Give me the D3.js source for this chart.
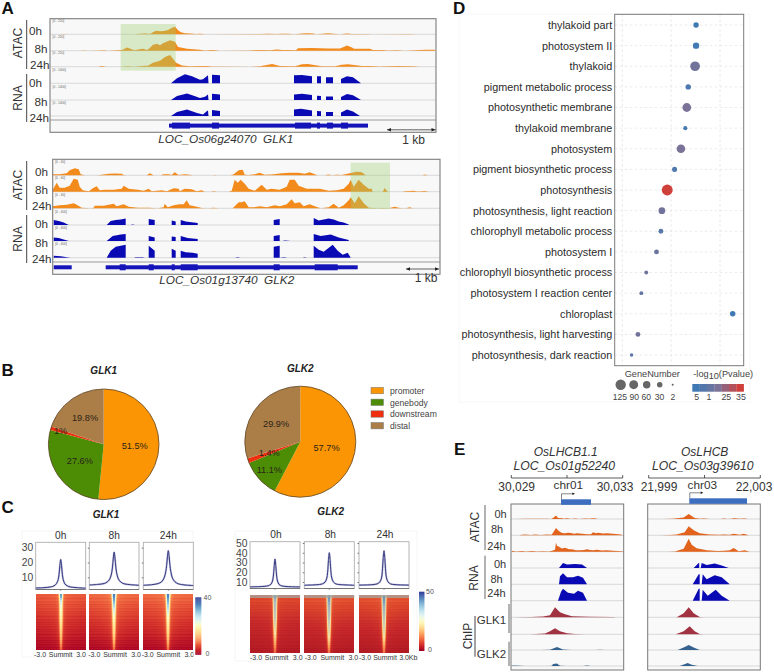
<!DOCTYPE html>
<html>
<head>
<meta charset="utf-8">
<title>GLK chromatin accessibility and binding</title>
<script src="https://cdn.jsdelivr.net/npm/d3@7/dist/d3.min.js"></script>
<style>
  html, body { margin: 0; background: #fff; }
  svg { display: block; }
  text { font-family: "Liberation Sans", Arial, sans-serif; fill: #222; white-space: pre; }
</style>
</head>
<body>
<svg id="fig" width="774" height="672" viewBox="0 0 774 672"></svg>
<script>
// ---------- Browser tracks: [genome bin, signal] pairs, one list per track ----------
const glk1Atac0h = [[10,0],[13,.4],[18,0],[85,0],[90,.6],[96,.7],[100,.2],[103,2],[106,3.6],[110,3],[114,3.4],[118,4.2],[122,6.5],[125,7.6],[126,6.5],[128,4],[131,2],[135,1],[140,.7],[146,.3],[150,.5],[156,0],[210,.2],[218,.5],[227,.2],[232,.5],[238,.6],[244,0],[250,.6],[256,1],[263,.7],[266,0],[273,.6],[278,1],[283,.5],[290,0],[297,.9],[302,.3],[317,.4],[322,0],[360,.2],[366,0]];
const glk1Atac8h = [[30,0],[34,.3],[38,0],[50,.3],[54,.4],[58,0],[72,.6],[77,3.2],[83,1],[85,.4],[88,1.2],[93,2],[97,.8],[99,2],[103,6],[107,7],[110,5.5],[113,7.5],[120,10.5],[125,9],[128,3.6],[137,2],[150,1],[155,.3],[163,.6],[170,0],[200,.3],[208,.7],[213,.8],[220,.5],[227,1.2],[232,.6],[240,.8],[246,.4],[248,2.4],[262,2.8],[278,2.3],[290,2.2],[293,3.5],[297,5.2],[302,3.2],[304,2],[320,1.9],[323,.6],[332,.7],[338,.2],[347,.5],[355,0],[375,.9],[385,1]];
const glk1Atac24h = [[48,0],[52,.6],[56,0],[72,0],[78,.5],[84,0],[90,.5],[95,.9],[98,1],[103,4],[110,6],[115,9.8],[120,11.6],[123,8],[126,4],[132,1.2],[140,.5],[150,.8],[157,.8],[162,.2],[170,.3],[200,0],[210,.5],[222,2.7],[230,.6],[245,.4],[252,2.4],[258,2.8],[264,1.6],[272,.5],[285,.4],[292,2],[298,2.4],[304,1.7],[312,.7],[320,.6],[330,.2],[347,.6],[363,.5],[370,0]];
const glk1Rna0h = [[121,0],[127,5],[135,9],[142,7],[150,3.6],[153,4],[158,8],[158.5,0],[162,0],[162,8.5],[170,8],[170,0],[244,0],[244,8],[252,8.4],[262,7],[262,0],[267,0],[267,7],[271,7],[271,0],[276,0],[276,6],[283,6],[283,0],[291,0],[291,4.4],[297,7],[303,6],[311,0]];
const glk1Rna8h = [[121,0],[127,4],[137,6.5],[143,4.5],[150,2],[155,3.2],[158,5.5],[158.5,0],[162,0],[162,6.2],[170,5.6],[170,0],[244,0],[244,5.6],[252,6.2],[262,5],[262,0],[267,0],[267,4.2],[271,4],[271,0],[276,0],[276,3.5],[283,3.6],[283,0],[291,0],[291,3],[297,6],[303,4.8],[311,0]];
const glk1Rna24h = [[121,0],[127,4],[137,6.5],[147,3],[153,1.5],[157,5],[158,5.6],[158.5,0],[162,0],[162,6],[170,5],[170,0],[244,0],[244,6.4],[251,7.2],[262,5.5],[262,0],[267,0],[267,5],[271,4.8],[271,0],[276,0],[276,4],[283,4],[283,0],[291,0],[291,3.4],[297,6.5],[303,4.6],[310,0]];

const glk2Atac0h = [[0,1],[7,1],[14,2],[17,5],[22,7],[26,6],[28,1],[32,0],[44,0],[47,.4],[56,1.5],[62,1.8],[69,1.5],[71,.3],[74,0],[94,0],[97,2],[101,0],[108,0],[111,1],[116,1],[119,.3],[122,3],[126,.3],[132,1],[137,.6],[140,0],[160,0],[162,.4],[165,0],[178,0],[181,1],[186,5],[190,5.5],[192,.5],[196,.3],[202,1],[207,2.5],[212,.5],[219,.7],[229,2],[237,2.5],[246,2.5],[252,1.5],[257,3],[262,1],[265,0],[272,0],[276,.7],[279,0],[284,.6],[289,.4],[297,2],[304,3.5],[309,3],[313,0],[370,0],[372,.7],[375,0]];
const glk2Atac8h = [[0,2],[4,9],[7,4],[12,4],[17,6],[21,13],[25,12],[27,5],[30,1.5],[36,.5],[41,4],[44,5.5],[47,1.5],[52,2],[61,2],[69,3],[71,6],[76,3],[85,2],[91,1],[96,3],[99,.5],[109,1.5],[114,.5],[121,3.5],[126,3],[127,.5],[132,3],[139,2.5],[144,.4],[149,1.5],[152,0],[158,0],[161,.5],[165,0],[176,0],[179,1],[182,12],[185,9],[188,12],[192,8],[196,3],[202,1],[209,7],[214,2],[219,3],[227,2],[234,5],[237,12],[242,12],[246,6],[254,3],[267,3],[276,1],[284,1.5],[291,3],[296,8],[298,12],[301,5],[306,12],[311,7],[316,3],[319,3],[320,0],[330,0],[332,3.6],[335,0],[350,0],[352,.5],[361,1],[365,.2],[372,.7],[376,0]];
const glk2Atac24h = [[0,2],[7,3],[14,3.6],[21,5],[24,3.5],[29,.5],[38,0],[41,.5],[42,2.5],[51,2.5],[56,3.6],[61,4.5],[64,2],[71,4],[76,1.5],[85,.5],[91,.5],[96,.5],[105,0],[111,1],[112,4.5],[115,1],[121,3],[127,4],[131,4],[134,8],[137,3],[142,2],[149,.3],[155,0],[161,.5],[166,0],[180,0],[182,2],[186,6],[189,6],[192,7],[196,1],[201,1],[207,2],[214,1],[222,3],[227,2],[234,4],[239,9],[242,5],[247,6],[251,2],[257,4],[262,2],[268,0],[276,1],[281,4.5],[286,.5],[291,3],[296,8],[298,11],[302,5],[306,12],[311,5],[316,.5],[325,0],[331,.4],[336,0],[342,1.5],[347,.2],[353,0],[357,1],[360,0]];
const glk2Rna0h = [[1,0],[1,5],[6,4],[11,2.5],[16,0],[54,0],[58,4],[63,5],[68,5.5],[73,6.5],[73,0],[78,0],[80,.4],[82,0],[96,0],[96,6],[102,5],[102,0],[119,0],[119,4.5],[123,3.5],[123,0],[128,0],[128,5],[133,3.6],[145,2],[145,0],[221,0],[221,5],[227,6],[227,0],[261,0],[261,7],[266,4.6],[276,6.5],[281,5.5],[286,3.5],[291,2.5],[296,.5],[296,0]];
const glk2Rna8h = [[1,0],[1,3.6],[6,3],[11,1.5],[16,0],[54,0],[60,5],[68,6.5],[73,7],[73,0],[96,0],[96,5],[102,3.6],[102,0],[119,0],[119,4.5],[123,4],[123,0],[128,0],[128,5],[135,3],[145,2],[145,0],[221,0],[221,5],[227,6],[227,0],[230,0],[232,.4],[238,0],[261,0],[261,7],[268,5],[278,6.5],[286,3.5],[296,1],[296,0]];
const glk2Rna24h = [[1,0],[1,2],[8,1.5],[16,.3],[18,0],[54,0],[58,7],[63,11],[68,12],[73,13],[73,0],[81,0],[83,.4],[90,.4],[92,0],[96,0],[96,12],[102,7],[102,0],[119,0],[119,9],[123,7],[123,0],[128,0],[128,7],[133,5.5],[140,5],[145,4],[145,0],[182,0],[185,.4],[188,0],[221,0],[221,11],[227,12],[227,0],[231,.5],[235,0],[250,0],[252,.5],[254,0],[261,0],[261,12],[266,8],[271,6],[280,13],[285,7],[290,3],[295,5],[298,0]];

const lhcb1Atac0h = [[5,0],[15,.2],[36,.2],[40,0],[42,1],[45,3.6],[47,1],[51,.7],[53,.2],[56,.7],[60,.1],[64,.5],[68,.1],[74,.5],[78,.2],[83,.8],[87,0]];
const lhcb1Atac8h = [[9,.2],[14,.8],[20,.4],[24,.8],[30,.4],[36,.8],[40,.6],[41,1],[45,7.4],[47,5],[49,3.6],[51,2.4],[54,2],[57,2.6],[60,2.2],[63,1.6],[66,2],[71,1.6],[76,1],[80,1],[82,3],[85,2],[87,2.5],[92,1.7],[96,2],[102,1.5],[110,.7],[112,0]];
const lhcb1Atac24h = [[1,1],[5,.3],[11,.7],[15,.2],[21,.7],[26,.3],[31,.5],[38,.3],[41,1],[44,2],[45,9],[46,6],[48,5],[51,3.2],[54,4],[58,2.4],[61,2.5],[65,1.4],[69,1.5],[73,1.6],[76,2.5],[79,1.6],[82,1.4],[86,2],[91,1.2],[96,1.5],[102,1],[111,.5],[113,0]];
const lhcb1Rna0h = [[48,0],[52,5],[56,3.6],[64,4],[71,3.5],[76,0]];
const lhcb1Rna8h = [[48,0],[49,8],[52,11],[56,7],[62,7],[67,8.6],[72,6.5],[76,0]];
const lhcb1Rna24h = [[47,0],[50,9],[52,12],[57,8],[63,7],[67,10],[72,8],[76,0]];
const lhcb1ChipGlk1a = [[2,0],[20,.3],[32,.7],[39,2],[44,10],[49,5],[54,3],[61,1],[79,.5],[102,.3],[105,0]];
const lhcb1ChipGlk1b = [[19,0],[25,.3],[34,.7],[39,3],[44,6],[49,3],[56,1],[64,.3],[75,0]];
const lhcb1ChipGlk2a = [[30,0],[39,.3],[46,3],[52,.5],[60,0],[85,0],[89,.3],[93,0]];
const lhcb1ChipGlk2b = [[0,0],[2,.5],[9,.2],[14,0],[38,0],[41,.3],[42,2],[46,2.5],[49,.3],[55,0],[72,0],[76,.6],[80,0]];

const lhcbAtac0h = [[15,0],[25,.2],[36,1.5],[41,5],[47,1],[52,.3],[56,.5],[62,0],[73,0],[76,.5],[80,0],[84,.2],[86,.8],[92,.2],[97,.5],[100,0]];
const lhcbAtac8h = [[12,0],[22,.2],[29,.7],[37,3],[41,9],[46,5],[52,2],[62,.7],[72,.5],[76,.7],[82,.6],[86,1.5],[92,.5],[96,1.5],[101,0]];
const lhcbAtac24h = [[20,0],[27,.3],[36,3],[41,13],[44,7],[49,3.5],[59,1.5],[70,.8],[76,1],[82,1.4],[86,3.6],[91,.5],[97,1.5],[102,0]];
const lhcbRna0h = [[46,0],[51,5],[51.5,5],[51.5,0],[53,0],[54,5],[59,3],[67,4.6],[74,2.5],[81,0]];
const lhcbRna8h = [[45,0],[51,10],[52,10],[52,0],[54,0],[55,10],[59,5],[67,9],[74,7],[82,0]];
const lhcbRna24h = [[45,0],[51,12],[52,12],[52,0],[54,0],[55,11],[60,5],[68,11],[74,5],[82,0]];
const lhcbChipGlk1a = [[29,0],[36,4],[41,10],[46,4],[52,.3],[56,0]];
const lhcbChipGlk1b = [[28,0],[36,3],[42,8],[47,3],[52,.3],[56,0]];
const lhcbChipGlk2a = [[30,0],[37,3],[41,5],[46,2.5],[52,0]];
const lhcbChipGlk2b = [[32,0],[40,3],[44,1.2],[50,0]];

// Gene models as [start bin, end bin]
const glk1GeneBody = [[119,318]];
const glk1Exons = [[122,140],[162,169],[245,261],[267,270],[277,283],[291,298]];
const glk2GeneBody = [[1,19],[53,305]];
const glk2Exons = [[67,73],[96,101],[119,122],[128,145],[221,227],[262,285]];

// ---------- Peak calls per genomic feature ----------
const pieCategories = ["promoter", "genebody", "downstream", "distal"];
const pieGlk1 = [51.5, 27.6, 1, 19.8];
const pieGlk2 = [57.7, 11.1, 1.4, 29.9];

// ---------- Summit profiles: [kb from summit, signal] ----------
const profGlk1_0h = [[-3,2.8],[-2,3],[-1.2,3.5],[-.8,4.2],[-.5,5.8],[-.3,8.5],[-.2,12],[-.1,18],[0,22],[.1,18],[.2,12],[.3,8.5],[.5,5.6],[.8,4.2],[1.2,3.4],[2,3],[3,2.6]];
const profGlk1_8h = [[-3,4.8],[-2,5.2],[-1.2,5.8],[-.8,7],[-.5,9.2],[-.3,13],[-.2,17],[-.1,23],[0,27],[.1,23],[.2,17],[.3,13],[.5,9],[.8,6.8],[1.2,5.6],[2,5],[3,4.6]];
const profGlk1_24h = [[-3,4.6],[-2,5],[-1.2,5.8],[-.8,7],[-.5,9.6],[-.3,14],[-.2,18],[-.1,24],[0,28],[.1,24],[.2,18],[.3,14],[.5,9.4],[.8,7],[1.2,5.6],[2,4.8],[3,4.4]];
const profGlk2_0h = [[-3,5],[-2,5.2],[-1.2,5.6],[-.8,6.2],[-.5,7.6],[-.3,11],[-.2,16],[-.1,26],[0,33.5],[.1,26],[.2,16],[.3,11],[.5,7.4],[.8,6],[1.2,5.5],[2,5.1],[3,5]];
const profGlk2_8h = [[-3,6.6],[-2,7],[-1.2,7.4],[-.8,8.2],[-.5,10],[-.3,14],[-.2,20],[-.1,32],[0,40],[.1,32],[.2,20],[.3,14],[.5,10],[.8,8],[1.2,7.4],[2,7],[3,6.6]];
const profGlk2_24h = [[-3,6.8],[-2,7],[-1.2,7.4],[-.8,8.2],[-.5,10],[-.3,14],[-.2,21],[-.1,34],[0,42],[.1,34],[.2,21],[.3,14],[.5,10],[.8,8],[1.2,7.4],[2,7],[3,6.8]];

// ---------- Heatmaps: rows top to bottom, columns by distance from summit ----------
const heatOffsets = [3, 1.5, .7, .4, .25, .15, .07, 0];
const heatRows = [0, .05, .12, .25, .4, .55, .7, .85, 1];
const heatGlk1_0h = [
  [6.5,6.8,7.2,8,13,24,33,35],
  [6.2,6.5,7,8,12,22,31,33],
  [5.8,6.2,6.6,7.5,10,19,24,26],
  [5,5.4,5.8,6.5,9,17,21,22],
  [3.8,4.2,4.6,5.5,8,15,18,19],
  [3,3.4,3.8,4.5,6.5,13,16,17],
  [2.2,2.5,3,3.8,5,10,14,15],
  [1.4,1.6,2,2.6,3.5,7,11.5,12.5],
  [.6,.7,1,1.4,2,3.5,7,8]];
const heatGlk1_8h = [
  [7.5,7.8,8.2,10,18,28,35,37],
  [7.2,7.5,8,9.5,16,27,34,36],
  [6.6,7,7.5,8.5,13,24,31,33],
  [5.6,6,6.5,7.5,11,20,25,27],
  [4.5,5,5.5,6.5,9,17,20,21],
  [3.5,3.9,4.5,5.5,7.5,14,17,18],
  [2.6,3,3.5,4.4,6,12,15,16],
  [1.6,1.9,2.4,3,4,8,12.5,13.5],
  [.7,.8,1.1,1.6,2.4,4,8,9]];
const heatGlk1_24h = [
  [7.6,7.8,8.2,10,18,27,35,37],
  [7.3,7.5,8,9.5,16,27,34,36],
  [6.7,7,7.5,8.5,13,24,31,33],
  [5.6,6,6.5,7.5,11,20,26,28],
  [4.6,5,5.5,6.5,9,17,20,21],
  [3.5,3.9,4.5,5.5,7.5,14,17,18],
  [2.6,3,3.5,4.4,6,12,15,16],
  [1.6,1.9,2.4,3,4,8,12.5,13.5],
  [.7,.8,1.1,1.6,2.4,4,8,9]];
const heatGlk2_0h = [
  [8,8.2,8.5,10,22,30,36,38],
  [7.5,7.8,8,9,18,28,34,36],
  [7,7.2,7.5,8.5,15,26,30,32],
  [6,6.2,6.5,7.5,13,25,28,30],
  [4.5,4.8,5.2,6.5,11,23,26,27],
  [3.5,3.8,4.2,5.5,9,20,22,23],
  [2.8,3,3.4,4.5,7,16,19,20],
  [2,2.2,2.5,3.2,4.5,11,15,16],
  [1,1.1,1.4,1.8,2.5,5,10,11]];
const heatGlk2_8h = [
  [9,9.2,9.5,11,24,32,40,42],
  [8.5,8.8,9,10,20,30,38,41],
  [8,8.2,8.5,9.5,17,29,34,37],
  [6.8,7,7.5,8.5,15,27,31,33],
  [5.2,5.6,6,7.2,12,25,28,30],
  [4,4.2,4.8,6,10,22,24,25],
  [3,3.3,3.8,5,8,18,21,22],
  [2.2,2.4,2.8,3.5,5,12,16,17],
  [1,1.2,1.5,2,2.8,5.5,11,12]];
const heatGlk2_24h = [
  [9,9.2,9.5,11,24,32,40,42],
  [8.5,8.8,9,10,20,30,38,42],
  [8,8.2,8.5,9.5,17,29,35,38],
  [6.8,7,7.5,8.5,15,27,31,33],
  [5.2,5.6,6,7.2,12,25,28,30],
  [4,4.2,4.8,6,10,22,24,25],
  [3,3.3,3.8,5,8,18,21,22],
  [2.2,2.4,2.8,3.5,5,12,16,17],
  [1,1.2,1.5,2,2.8,5.5,11,12]];
// Row-to-row unevenness of the sorted peak signal
const heatRowSpread = [.3,-.2,.5,.1,-.4,.2,.6,-.3,0,.4,-.5,.2,-.1,.5,-.3,.1,.4,-.4];

// ---------- GO enrichment ----------
const goTerms = ["thylakoid part","photosystem II","thylakoid","pigment metabolic process","photosynthetic membrane","thylakoid membrane","photosystem","pigment biosynthetic process","photosynthesis","photosynthesis, light reaction","chlorophyll metabolic process","photosystem I","chlorophyll biosynthetic process","photosystem I reaction center","chloroplast","photosynthesis, light harvesting","photosynthesis, dark reaction"];
const goEnrichment = [2.51,2.51,2.49,2.35,2.32,2.29,2.2,2.07,1.92,1.81,1.79,1.7,1.49,1.39,3.26,1.32,1.19];
const goGeneNumber = [29,42,107,29,86,15,82,24,140,47,22,22,13,13,29,22,10];
const goLogP = [5,5.5,18,8,20,7,20,9,35,18,11,16,17,14,5,18,12];
const sizeLegend = [125,90,60,30,2];
const colorLegendSteps = [5,10,15,20,25,30,35];
const colorLegendLabels = ["5","1","25","35"];

// ---------- Shared drawing helpers ----------
const svg = d3.select("#fig");
const FONT = "Liberation Sans";

function label(parent, txt, x, y, opts = {}) {
  const t = parent.append("text").attr("x", x).attr("y", y)
    .attr("text-anchor", opts.anchor || "middle")
    .attr("dominant-baseline", "central")
    .style("font-size", (opts.size || 11) + "px")
    .style("font-style", opts.italic ? "italic" : null)
    .style("font-weight", opts.bold ? "bold" : null)
    .style("fill", opts.fill || null)
    .text(txt);
  if (opts.rotate) t.attr("transform", `rotate(${opts.rotate} ${x} ${y})`);
  return t;
}

function panelLetter(txt, x, y) {
  svg.append("text").attr("x", x).attr("y", y)
    .style("font-size", "17px").style("font-weight", "bold").style("fill", "#111").text(txt);
}

// Draws one coverage track with its baseline; signal runs 0-16 above the baseline.
function track(g, series, x0, w, baseline, color, rangeText) {
  const x = d3.scaleLinear().domain([0, w]).range([x0, x0 + w]);
  const y = d3.scaleLinear().domain([0, 16]).range([baseline, baseline - 16]);
  g.append("line").attr("x1", x0).attr("x2", x0 + w).attr("y1", baseline).attr("y2", baseline)
    .attr("stroke", "#cfcfcf").attr("stroke-width", 0.8);
  g.append("path").datum(series)
    .attr("d", d3.area().x(d => x(d[0])).y0(y(0)).y1(d => y(d[1])).curve(d3.curveLinear))
    .attr("fill", color);
  if (rangeText) {
    g.append("text").attr("x", x0 + 2.5).attr("y", baseline - 12.5)
      .style("font-size", "3.2px").style("fill", "#666").text(rangeText);
  }
}

function rowLabels(g, items) {
  items.forEach(d => label(g, d[0], d[1], d[2], { anchor: "start", size: 11.7, fill: "#333" }));
}

function bar(g, x, y1, y2, color = "#444", w = 1) {
  g.append("line").attr("x1", x).attr("x2", x).attr("y1", y1).attr("y2", y2)
    .attr("stroke", color).attr("stroke-width", w);
}

function scaleArrow(g, x1, x2, y) {
  const col = "#222";
  g.append("line").attr("x1", x1).attr("x2", x2).attr("y1", y).attr("y2", y).attr("stroke", col).attr("stroke-width", .7);
  g.append("path").attr("d", `M${x1},${y}l4,-1.8v3.6z M${x2},${y}l-4,-1.8v3.6z`).attr("fill", col);
}

// ---------- Panel A ----------
const orange = "#f28a1c", rnaBlue = "#0a0ab4", geneBlue = "#1414b8";

function browserPanel(cfg) {
  const g = svg.append("g");
  const w = cfg.x1 - cfg.x0;
  g.append("rect").attr("x", cfg.x0).attr("y", cfg.y0).attr("width", w).attr("height", cfg.y1 - cfg.y0)
    .attr("fill", "#f8f8f8");
  cfg.atac.forEach((s, i) => track(g, s, cfg.x0, w, cfg.atacBase[i], orange, cfg.atacRange));
  cfg.rna.forEach((s, i) => track(g, s, cfg.x0, w, cfg.rnaBase[i], rnaBlue, cfg.rnaRange));

  // gene model strip
  g.append("line").attr("x1", cfg.x0).attr("x2", cfg.x1).attr("y1", cfg.sep).attr("y2", cfg.sep)
    .attr("stroke", "#9a9a9a").attr("stroke-width", 1.2);
  const gx = d3.scaleLinear().domain([0, w]).range([cfg.x0, cfg.x1]);
  g.selectAll(null).data(cfg.body).join("rect")
    .attr("x", d => gx(d[0])).attr("width", d => gx(d[1]) - gx(d[0]))
    .attr("y", cfg.geneY - 2).attr("height", 4).attr("fill", geneBlue);
  g.selectAll(null).data(cfg.exons).join("rect")
    .attr("x", d => gx(d[0])).attr("width", d => gx(d[1]) - gx(d[0]))
    .attr("y", cfg.geneY - 3).attr("height", 6).attr("fill", geneBlue);

  // accessible region highlighted over the tracks
  g.append("rect").attr("x", cfg.hl[0]).attr("y", cfg.hl[1]).attr("width", cfg.hl[2]).attr("height", cfg.hl[3])
    .attr("fill", "#9fd070").attr("opacity", .36);
  g.append("rect").attr("x", cfg.x0).attr("y", cfg.y0).attr("width", w).attr("height", cfg.y1 - cfg.y0)
    .attr("fill", "none").attr("stroke", "#7d7d7d").attr("stroke-width", 1.1);

  label(g, "ATAC", 18, cfg.atacMid, { rotate: -90, size: 12, fill: "#333" });
  label(g, "RNA", 18, cfg.rnaMid, { rotate: -90, size: 12, fill: "#333" });
  bar(g, 26.7, cfg.atacLine[0], cfg.atacLine[1]);
  bar(g, 26.7, cfg.rnaLine[0], cfg.rnaLine[1]);
  rowLabels(g, cfg.rows);
  label(g, cfg.title, cfg.titleX, cfg.titleY, { italic: true, size: 11.8, fill: "#333" });
  label(g, "1 kb", cfg.kbX, cfg.kbY, { size: 12, fill: "#333" });
  scaleArrow(g, cfg.arrow[0], cfg.arrow[1], cfg.arrow[2]);
}

browserPanel({
  x0: 50, x1: 436, y0: 18.7, y1: 132.3,
  atac: [glk1Atac0h, glk1Atac8h, glk1Atac24h], atacBase: [34.3, 50.7, 66.7], atacRange: "[0 - 250]",
  rna: [glk1Rna0h, glk1Rna8h, glk1Rna24h], rnaBase: [83.3, 100, 116], rnaRange: "[0 - 1400]",
  sep: 120, geneY: 125.6, body: glk1GeneBody, exons: glk1Exons,
  hl: [120.7, 24, 55, 46.7],
  atacMid: 43, rnaMid: 98, atacLine: [20, 69], rnaLine: [74, 122],
  rows: [["0h", 29, 30], ["8h", 34.5, 48], ["24h", 30, 64], ["0h", 29, 82], ["8h", 34.5, 101], ["24h", 29.5, 117]],
  title: "LOC_Os06g24070  GLK1", titleX: 225.7, titleY: 138.5,
  kbX: 413.5, kbY: 140, arrow: [387, 435.5, 129.8]
});

browserPanel({
  x0: 52.7, x1: 440, y0: 159.3, y1: 274.3,
  atac: [glk2Atac0h, glk2Atac8h, glk2Atac24h], atacBase: [175.3, 191.7, 208.3], atacRange: "[0 - 60]",
  rna: [glk2Rna0h, glk2Rna8h, glk2Rna24h], rnaBase: [225, 241, 257.7], rnaRange: "[0 - 600]",
  sep: 262, geneY: 267.3, body: glk2GeneBody, exons: glk2Exons,
  hl: [350.7, 162.7, 39.3, 46.3],
  atacMid: 185, rnaMid: 239, atacLine: [161, 210], rnaLine: [215, 263],
  rows: [["0h", 35, 171], ["8h", 35, 189], ["24h", 32, 205], ["0h", 35, 223], ["8h", 35, 242], ["24h", 32, 258]],
  title: "LOC_Os01g13740  GLK2", titleX: 226.7, titleY: 280,
  kbX: 426, kbY: 278, arrow: [406, 439, 269]
});

// ---------- Panel B ----------
const pieColor = d3.scaleOrdinal().domain(pieCategories).range(["#fb9503", "#4d8d06", "#ef2f0f", "#ab7d47"]);
const pieGen = d3.pie().sort(null);

function pieChart(values, cx, cy, r, labelRadii, title, titleY) {
  const g = svg.append("g").attr("transform", `translate(${cx},${cy})`);
  const arcs = pieGen(values);
  const arc = d3.arc().innerRadius(0).outerRadius(r);
  g.selectAll("path").data(arcs).join("path").attr("d", arc)
    .attr("fill", (d, i) => pieColor(pieCategories[i]));
  g.append("circle").attr("r", r).attr("fill", "none").attr("stroke", "#5f4526").attr("stroke-width", .8);
  g.selectAll("text").data(arcs).join("text")
    .attr("transform", (d, i) => {
      const c = d3.arc().innerRadius(labelRadii[i]).outerRadius(labelRadii[i]).centroid(d);
      return `translate(${c})`;
    })
    .attr("text-anchor", "middle").attr("dominant-baseline", "central")
    .style("font-size", "9.2px").style("fill", "#2a2418")
    .text(d => d.data + "%");
  label(svg, title, cx, titleY, { bold: true, italic: true, size: 10 });
}

pieChart(pieGlk1, 103.7, 444.3, 55.3, [31, 29, 45, 32], "GLK1", 370.5);
pieChart(pieGlk2, 300.3, 441.7, 55.5, [27, 42, 33, 30], "GLK2", 368);

const pieLegend = svg.append("g").selectAll("g").data(pieCategories).join("g")
  .attr("transform", (d, i) => `translate(371,${387.4 + i * 11.7})`);
pieLegend.append("rect").attr("width", 12.5).attr("height", 6.4)
  .attr("fill", d => pieColor(d)).attr("stroke", "#777").attr("stroke-width", .5);
pieLegend.append("text").attr("x", 19).attr("y", 3.4).attr("dominant-baseline", "central")
  .style("font-size", "8.6px").style("fill", "#444").text(d => d);

// ---------- Panel C ----------
function profileBox(series, cfg, y, showLabels) {
  const g = svg.append("g");
  const x = d3.scaleLinear().domain([-3, 3]).range([cfg.x, cfg.x + cfg.w]);
  g.append("rect").attr("x", cfg.x).attr("y", cfg.top).attr("width", cfg.w).attr("height", cfg.bottom - cfg.top)
    .attr("fill", "#fff").attr("stroke", "#aeaeae").attr("stroke-width", .9);
  g.append("line").attr("x1", cfg.x).attr("x2", cfg.x + cfg.w).attr("y1", cfg.bottom).attr("y2", cfg.bottom)
    .attr("stroke", "#666").attr("stroke-width", .8);
  g.append("line").attr("x1", x(0)).attr("x2", x(0)).attr("y1", cfg.bottom).attr("y2", cfg.bottom + 1.5)
    .attr("stroke", "#666").attr("stroke-width", .6);
  const axis = d3.axisLeft(y).tickValues(cfg.ticks).tickSize(showLabels ? 0 : 1.5).tickPadding(2.5);
  if (!showLabels) axis.tickFormat("");
  const ax = g.append("g").attr("transform", `translate(${cfg.x},0)`).call(axis);
  ax.select(".domain").remove();
  ax.selectAll("line").attr("stroke", "#777");
  ax.selectAll("text").style("font-size", "10.3px").style("fill", "#444").style("font-family", FONT);
  const line = d3.line().x(d => x(d[0])).y(d => y(d[1])).curve(d3.curveCatmullRom);
  g.append("path").datum(series).attr("d", line).attr("fill", "none").attr("stroke", "#c3c5de").attr("stroke-width", 2);
  g.append("path").datum(series).attr("d", line).attr("fill", "none").attr("stroke", "#34367f").attr("stroke-width", 1);
}

function heatmap(matrix, cfg, colorOf) {
  const g = svg.append("g").attr("shape-rendering", "crispEdges");
  const rowFns = matrix.map(r => d3.scaleLinear().domain(heatOffsets).range(r));
  const nRows = Math.round(cfg.bottom - cfg.top), nCols = Math.round(cfg.w);
  const top = Math.round(cfg.top), left = Math.round(cfg.x);
  const cells = [];
  for (let row = 0; row < nRows; row++) {
    const frac = row / (nRows - 1);
    const spread = heatRowSpread[row % heatRowSpread.length];
    const across = d3.scaleLinear().domain(heatRows);
    for (let col = 0; col < nCols; col++) {
      const kb = Math.abs((col + .5) / nCols * 6 - 3);
      const v = across.range(rowFns.map(f => f(kb)))(frac) + spread;
      cells.push({ col, row, v: Math.max(0, v) });
    }
  }
  g.selectAll("rect").data(cells).join("rect")
    .attr("x", d => left + d.col).attr("y", d => top + d.row)
    .attr("width", 1).attr("height", 1)
    .attr("fill", d => colorOf(d.v));
}

function colorBar(x, top, bottom, w, maxVal, labelX) {
  const g = svg.append("g");
  const y = d3.scaleLinear().domain([0, maxVal]).range([bottom, top]);
  const col = d3.scaleSequential(d3.interpolateRdYlBu).domain([0, maxVal]);
  g.selectAll("rect").data(d3.range(0, maxVal, maxVal / 60)).join("rect")
    .attr("x", x).attr("width", w)
    .attr("y", d => y(d) - (bottom - top) / 60).attr("height", (bottom - top) / 60 + .3)
    .attr("fill", d => col(d));
  label(g, String(maxVal), labelX, top, { size: 7, fill: "#555" });
  label(g, "0", labelX, bottom - 1, { size: 7, fill: "#555" });
}

// faint frames behind the two heatmap groups
[[22, 531, 171, 126], [235, 531, 182, 130]].forEach(b => svg.append("rect")
  .attr("x", b[0]).attr("y", b[1]).attr("width", b[2]).attr("height", b[3])
  .attr("fill", "none").attr("stroke", "#f3f3f3").attr("stroke-width", .8));

const glk1Color = d3.scaleSequential(d3.interpolateRdYlBu).domain([0, 40]);
const glk2Ramp = d3.scaleLinear()
  .domain([0, 4, 8, 12, 16, 20, 26, 32, 38, 44])
  .range(["#a8141f", "#c5272a", "#df4a2c", "#f2764a", "#f9ad62", "#f7dfa0", "#c9cdb8", "#a6b6c0", "#6e94bd", "#3f6ea8"]);

const glk1Cols = [
  { x: 35.7, w: 50, name: "0h", prof: profGlk1_0h, heat: heatGlk1_0h },
  { x: 89.3, w: 49.7, name: "8h", prof: profGlk1_8h, heat: heatGlk1_8h },
  { x: 143.3, w: 50, name: "24h", prof: profGlk1_24h, heat: heatGlk1_24h }];
const glk2Cols = [
  { x: 250, w: 50, name: "0h", prof: profGlk2_0h, heat: heatGlk2_0h },
  { x: 304.3, w: 50, name: "8h", prof: profGlk2_8h, heat: heatGlk2_8h },
  { x: 359, w: 50, name: "24h", prof: profGlk2_24h, heat: heatGlk2_24h }];

const yGlk1 = d3.scaleLinear().domain([10, 30]).range([577.3, 547.7]);
const yGlk2 = d3.scaleLinear().domain([10, 50]).range([582, 543]);

glk1Cols.forEach((c, i) => {
  label(svg, c.name, c.x + c.w / 2, 535.7, { size: 10.2, fill: "#333" });
  profileBox(c.prof, { x: c.x, w: c.w, top: 542.3, bottom: 589.5, ticks: [10, 20, 30] }, yGlk1, i === 0);
  heatmap(c.heat, { x: c.x, w: c.w, top: 593.7, bottom: 650 }, glk1Color);
});
glk2Cols.forEach((c, i) => {
  label(svg, c.name, c.x + c.w / 2 + 1, 534.7, { size: 10.2, fill: "#333" });
  profileBox(c.prof, { x: c.x, w: c.w, top: 541.7, bottom: 588.5, ticks: [10, 20, 30, 40, 50] }, yGlk2, i === 0);
  heatmap(c.heat, { x: c.x, w: c.w, top: 595, bottom: 652.7 }, glk2Ramp);
  // band of missing data along the top of each heatmap
  svg.append("rect").attr("x", c.x).attr("y", 595).attr("width", c.w).attr("height", 3)
    .attr("fill", "#a3a6a2").attr("opacity", .75);
});

colorBar(195.3, 597.3, 654.5, 6, 40, 207.5);
colorBar(419, 591.7, 650.7, 5.4, 50, 430);

label(svg, "GLK1", 106, 514, { bold: true, italic: true, size: 10 });
label(svg, "GLK2", 330.7, 511, { bold: true, italic: true, size: 10 });

svg.append("clipPath").attr("id", "c-clip").append("rect").attr("x", 0).attr("y", 640).attr("width", 193.5).attr("height", 30);
const glk1Foot = svg.append("g").attr("clip-path", "url(#c-clip)");
[[40, 60.7, 81], [94.3, 115, 136], [147.7, 168.3, 189.3]].forEach(t => {
  label(glk1Foot, "-3.0", t[0], 654.3, { size: 7, fill: "#333" });
  label(glk1Foot, "Summit", t[1], 654.3, { size: 7, fill: "#333" });
  label(glk1Foot, "3.0", t[2], 654.3, { size: 7, fill: "#333" });
});
[[256, 276.7, 297.7, "3.0"], [310.7, 332.3, 353.3, "3.0"], [365, 385, 408.3, "3.0Kb"]].forEach(t => {
  label(svg, "-3.0", t[0], 657.3, { size: 7, fill: "#333" });
  label(svg, "Summit", t[1], 657.3, { size: 7, fill: "#333" });
  label(svg, t[3], t[2], 657.3, { size: 7, fill: "#333" });
});

// ---------- Panel D ----------
const dBox = { x0: 614.7, x1: 743.7, y0: 14.3, y1: 365.7 };
const dX = d3.scaleLinear().domain([1, 3]).range([622.3, 720]);
const dY = d3.scalePoint().domain(goTerms).range([25, 355]);
const dR = d3.scaleSqrt().domain([0, 125]).range([.4, 5.2]);
const dC = d3.scaleLinear().domain([5, 20, 35]).range(["#3f7ab5", "#7a7297", "#cf403b"]);

const dPlot = svg.append("g");
svg.insert("rect", ":first-child").attr("x", 459).attr("y", 14).attr("width", 291).attr("height", 388)
  .attr("fill", "none").attr("stroke", "#f6f6f6").attr("stroke-width", .8);
dPlot.selectAll(".h").data(goTerms).join("line")
  .attr("x1", dBox.x0).attr("x2", dBox.x1).attr("y1", d => dY(d)).attr("y2", d => dY(d))
  .attr("stroke", "#e2e2e2").attr("stroke-width", .7).attr("stroke-dasharray", "2.5 2.5");
dPlot.selectAll(".v").data([1, 2, 3]).join("line")
  .attr("x1", d => dX(d)).attr("x2", d => dX(d)).attr("y1", dBox.y0).attr("y2", dBox.y1)
  .attr("stroke", "#e6dfe2").attr("stroke-width", .8).attr("stroke-dasharray", "2.5 2.5");
dPlot.selectAll("circle").data(goTerms).join("circle")
  .attr("cx", (d, i) => dX(goEnrichment[i])).attr("cy", d => dY(d))
  .attr("r", (d, i) => dR(goGeneNumber[i]))
  .attr("fill", (d, i) => dC(goLogP[i]));
dPlot.append("rect").attr("x", dBox.x0).attr("y", dBox.y0).attr("width", dBox.x1 - dBox.x0).attr("height", dBox.y1 - dBox.y0)
  .attr("fill", "none").attr("stroke", "#7a7a7a").attr("stroke-width", 1);
const dAxis = dPlot.append("g").attr("transform", `translate(${dBox.x0 - 2.5},0)`)
  .call(d3.axisLeft(dY).tickSize(0).tickPadding(0));
dAxis.select(".domain").remove();
dAxis.selectAll("text").style("font-size", "10.8px").style("fill", "#2b2b2b").style("font-family", FONT);

label(svg, "GeneNumber", 652.3, 374, { size: 9.2, fill: "#444" });
const sizeX = d3.scalePoint().domain(sizeLegend).range([620.7, 672.7]);
svg.append("g").selectAll("circle").data(sizeLegend).join("circle")
  .attr("cx", d => sizeX(d)).attr("cy", 384.7).attr("r", d => dR(d)).attr("fill", "#666");
const sizeLabelX = d3.scalePoint().domain(sizeLegend).range([619.8, 672.8]);
svg.append("g").selectAll("text").data(sizeLegend).join("text")
  .attr("x", d => sizeLabelX(d) + (d === 90 ? 1.2 : 0)).attr("y", 396.7).attr("text-anchor", "middle").attr("dominant-baseline", "central")
  .style("font-size", "8.6px").style("fill", "#444").text(d => d);

const pLabel = svg.append("text").attr("x", 693.3).attr("y", 377).style("font-size", "9.2px").style("fill", "#444");
pLabel.append("tspan").text("-log");
pLabel.append("tspan").attr("dy", 2).style("font-size", "9.2px").text("10");
pLabel.append("tspan").attr("dy", -2).text("(Pvalue)");
const stepBand = d3.scaleBand().domain(colorLegendSteps).range([692.3, 743.7]);
svg.append("g").selectAll("rect").data(colorLegendSteps).join("rect")
  .attr("x", d => stepBand(d)).attr("y", 384).attr("width", stepBand.bandwidth() + .2).attr("height", 7.7)
  .attr("fill", d => dC(d));
[696.7, 709, 726.3, 741].forEach((x, i) => label(svg, colorLegendLabels[i], x, 396.7, { size: 8.8, fill: "#444" }));

// ---------- Panel E ----------
const atacOrange = "#e2641c", chipRed = "#a13242", chipBlue = "#35618e", tssBlue = "#3c6dbf";

function locusPanel(cfg) {
  const g = svg.append("g");
  const w = cfg.x1 - cfg.x0;
  g.append("rect").attr("x", cfg.x0).attr("y", 504).attr("width", w).attr("height", 166).attr("fill", "#f9f9f9");
  cfg.atac.forEach((s, i) => track(g, s, cfg.x0, w, [519, 535.3, 551.7][i], atacOrange));
  cfg.rna.forEach((s, i) => track(g, s, cfg.x0, w, [568, 584.3, 600.7][i], rnaBlue));
  cfg.chip.forEach((s, i) => track(g, s, cfg.x0, w, [617.3, 634.3, 650, 666][i], i < 2 ? chipRed : chipBlue));
  g.append("rect").attr("x", cfg.x0).attr("y", 504).attr("width", w).attr("height", 166)
    .attr("fill", "none").attr("stroke", "#777").attr("stroke-width", 1);

  label(g, cfg.name, cfg.nameX, 451.7, { italic: true, size: 12, fill: "#333" });
  label(g, cfg.locus, cfg.locusX, 466.3, { italic: true, size: 12.2, fill: "#333" });

  // genomic window bracket
  const gx = d3.scaleLinear().domain(cfg.window).range([cfg.bx0, cfg.bx1]);
  const mid = gx((cfg.window[0] + cfg.window[1]) / 2);
  g.append("path").attr("d", `M${gx(cfg.window[0])},475V478H${gx(cfg.window[1])}V475M${mid},475V478`)
    .attr("fill", "none").attr("stroke", "#333").attr("stroke-width", .8);
  const fmt = d3.format(",");
  label(g, fmt(cfg.window[0]), cfg.tickX[0], 486.7, { size: 12, fill: "#333" });
  label(g, cfg.chr, cfg.tickX[1], 485, { size: 11.8, fill: "#333" });
  label(g, fmt(cfg.window[1]), cfg.tickX[2], 486.7, { size: 12, fill: "#333" });

  // transcript and start site arrow
  g.append("rect").attr("x", cfg.tss).attr("y", cfg.geneTop).attr("width", cfg.geneW).attr("height", 5.5).attr("fill", tssBlue);
  g.append("path").attr("d", `M${cfg.tss + .5},${cfg.geneTop}V${cfg.geneTop - 5.5}H${cfg.tss + 13}`)
    .attr("fill", "none").attr("stroke", "#333").attr("stroke-width", .6);
  g.append("path").attr("d", `M${cfg.tss + 14},${cfg.geneTop - 5.5}l-2.6,-1.2v2.4z`).attr("fill", "#222");
}

locusPanel({
  x0: 511, x1: 623.7, name: "OsLHCB1.1", nameX: 565.7, locus: "LOC_Os01g52240", locusX: 564.3,
  window: [30029, 30033], bx0: 511.3, bx1: 622.7, chr: "chr01", tickX: [516.7, 568.3, 615],
  tss: 561, geneTop: 499.3, geneW: 30,
  atac: [lhcb1Atac0h, lhcb1Atac8h, lhcb1Atac24h], rna: [lhcb1Rna0h, lhcb1Rna8h, lhcb1Rna24h],
  chip: [lhcb1ChipGlk1a, lhcb1ChipGlk1b, lhcb1ChipGlk2a, lhcb1ChipGlk2b]
});
locusPanel({
  x0: 647.7, x1: 760.3, name: "OsLHCB", nameX: 704.7, locus: "LOC_Os03g39610", locusX: 702.7,
  window: [21999, 22003], bx0: 648.7, bx1: 760.3, chr: "chr03", tickX: [659, 702.3, 754],
  tss: 689.3, geneTop: 498.3, geneW: 57.7,
  atac: [lhcbAtac0h, lhcbAtac8h, lhcbAtac24h], rna: [lhcbRna0h, lhcbRna8h, lhcbRna24h],
  chip: [lhcbChipGlk1a, lhcbChipGlk1b, lhcbChipGlk2a, lhcbChipGlk2b]
});

const eLab = svg.append("g");
label(eLab, "ATAC", 475, 527, { rotate: -90, size: 12, fill: "#333" });
label(eLab, "RNA", 473.5, 578, { rotate: -90, size: 12, fill: "#333" });
label(eLab, "ChIP", 468, 636, { rotate: -90, size: 12, fill: "#333" });
bar(eLab, 485, 505, 550, "#666");
bar(eLab, 485, 555.7, 599, "#666");
bar(eLab, 475, 616, 656.7, "#444");
bar(eLab, 509, 604, 633, "#666");
bar(eLab, 509, 641.7, 666, "#666");
[["0h", 500.5, 514], ["8h", 497, 529], ["24h", 496.5, 545.7], ["0h", 500, 564], ["8h", 496.5, 578.7], ["24h", 496.5, 593.3]]
  .forEach(d => label(eLab, d[0], d[1], d[2], { size: 11, fill: "#333" }));
label(eLab, "GLK1", 476.7, 620, { anchor: "start", size: 11.5, fill: "#333" });
label(eLab, "GLK2", 476.7, 654, { anchor: "start", size: 11.5, fill: "#333" });

// ---------- Panel letters ----------
panelLetter("A", 1.5, 14);
panelLetter("B", 1.5, 376);
panelLetter("C", 1.5, 513);
panelLetter("D", 453, 14);
panelLetter("E", 454, 455);
</script>
</body>
</html>
